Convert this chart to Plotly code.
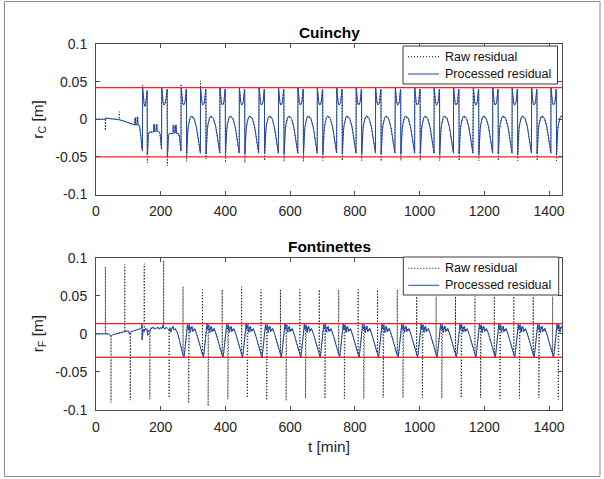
import plotly.graph_objects as go

# ---------------- Cuinchy (top) ----------------
# irregular start-up section (t in min, residual in m)
c_early_t = [0, 28.6, 28.9, 29.2, 50, 71.7, 72, 72.3, 90, 110, 118,
             120, 120.4, 122, 122.4, 127, 127.4, 129, 129.4, 133,
             135, 137.5, 139.5, 141.5, 143.6,
             144, 145, 146.5, 148.5, 151, 153, 155, 157, 158.2, 158.6,
             160, 162, 165, 178, 178.4, 180.5, 180.9, 186, 186.4, 188.5, 188.9,
             196, 198, 200, 202.6,
             203, 204, 205.5, 207.5, 210, 213, 216, 218.5, 220, 220.5,
             222, 224, 227, 238, 238.4, 241, 241.4, 245, 245.4, 248, 248.4,
             255, 258, 260, 262.6]
c_early_proc = [0, 0, 0.0015, 0.0015, 0.0008, -0.0005, -0.0006, -0.0007, -0.003, -0.006, -0.0075,
                -0.0075, 0.002, 0.002, -0.0075, -0.0075, 0.003, 0.003, -0.0075, -0.0078,
                -0.010, -0.016, -0.026, -0.037, -0.042,
                0.042, 0.036, 0.028, 0.021, 0.017, 0.019, 0.026, 0.036, 0.038, -0.047,
                -0.030, -0.020, -0.017, -0.017, -0.007, -0.007, -0.016, -0.016, -0.007, -0.007, -0.016,
                -0.017, -0.020, -0.028, -0.040,
                0.042, 0.036, 0.028, 0.022, 0.019, 0.020, 0.026, 0.037, 0.040, -0.050,
                -0.032, -0.022, -0.019, -0.019, -0.008, -0.008, -0.018, -0.018, -0.008, -0.008, -0.019,
                -0.019, -0.024, -0.032, -0.042]
c_early_spike_t = [28.9, 72, 144, 158.6, 220.5]
c_early_spike_v = [-0.015, 0.010, 0.046, -0.058, -0.062]

# regular lock cycles: start (peak) times and one cycle
c_peak_times = [263, 323, 383, 443, 504, 564, 624, 684, 744, 804,
                864, 925, 985, 1045, 1105, 1166, 1226, 1286, 1346, 1406]
c_cycle_dt = [0, 1, 2.5, 4.5, 7, 10, 12.5, 14.5, 16, 16.6, 17, 18, 19.5, 21, 23,
              25, 28, 31, 34, 35, 36, 40, 44, 47, 50, 53, 55.5, 57.5, 59.6]
c_cycle_proc = [0.042, 0.036, 0.028, 0.022, 0.019, 0.020, 0.024, 0.031, 0.040, 0.037,
                -0.046, -0.032, -0.022, -0.014, -0.007, -0.002, 0.002, 0.004, 0.004,
                0.002, 0.003, 0.001, -0.004, -0.010, -0.018, -0.028, -0.037, -0.043, -0.045]
c_raw_peak = [0.047, 0.051, 0.042, 0.042, 0.042, 0.042, 0.042, 0.042, 0.042, 0.042,
              0.042, 0.042, 0.042, 0.042, 0.042, 0.042, 0.042, 0.042, 0.042, 0.042]
c_raw_drop = [-0.056, -0.053, -0.0575, -0.058, -0.055, -0.056, -0.056, -0.055, -0.055, -0.055,
              -0.056, -0.055, -0.055, -0.055, -0.055, -0.055, -0.055, -0.055, -0.055, -0.055]
c_thresholds = [0.042, -0.050]

# ---------------- Fontinettes (bottom) ----------------
f_early_t = [0, 28.7, 29, 29.3, 40, 43, 46.2, 46.5, 46.8, 52, 70, 88.7, 89, 89.3, 100, 103,
             105.7, 106, 106.3, 110, 125, 138, 141, 142, 142.5, 144, 146, 148.7, 149, 149.3,
             152, 155, 157, 158, 160, 161, 163, 166.2, 166.5, 166.8, 170, 173, 176, 180, 184,
             188, 192, 196, 200, 204, 206, 208.7, 209, 209.3, 213, 217, 221, 225.7, 226, 226.3,
             229, 231, 234, 238, 241, 245, 248, 251, 254, 258, 262, 266]
f_early_proc = [0, 0, 0, 0, 0, -0.002, -0.003, -0.003, -0.003, -0.001, 0.001, 0.003, 0.003, 0.003,
                0.004, 0.000, 0.002, 0.002, 0.002, 0.003, 0.005, 0.007, 0.009, 0.013, -0.008,
                0.004, 0.006, 0.003, 0.003, 0.003, 0.007, 0.006, 0.007, -0.001, -0.002, 0.004,
                0.005, 0.003, 0.003, 0.003, 0.008, 0.007, 0.009, 0.006, 0.008, 0.007, 0.009,
                0.006, 0.008, 0.007, 0.011, 0.008, 0.008, 0.008, 0.006, 0.009, 0.007, 0.005,
                0.005, 0.005, 0.008, 0.002, 0.006, 0.010, 0.005, 0.007, 0.004, 0.002, -0.002,
                -0.008, -0.015, -0.021]
f_early_spike_t = [29, 46.5, 89, 106, 149, 166.5, 209, 226]
f_early_spike_v = [0.088, -0.090, 0.091, -0.087, 0.092, -0.086, 0.096, -0.084]

f_spike_times = [269, 329, 390, 450, 510, 570, 630, 690, 750, 810,
                 870, 931, 991, 1051, 1111, 1171, 1231, 1291, 1351, 1411]
f_cycle_dt = [-0.3, 0, 0.3, 3, 5.5, 8, 10.5, 12.5, 14, 15.5,
              17.2, 17.5, 17.8, 19.5, 21, 23, 24.5, 26, 27.5, 29.5,
              31.5, 33.5, 36, 38.5, 41, 44, 47, 50, 53, 56, 58.5]
f_cycle_proc = [-0.027, -0.028, -0.029, -0.031, -0.022, -0.009, 0.003, 0.010, 0.013, 0.006,
                0.008, 0.009, 0.010, 0.012, 0.004, 0.002, 0.009, 0.007, 0.010, 0.003,
                0.006, 0.004, 0.007, 0.002, 0.001, -0.003, -0.008, -0.013, -0.018, -0.022, -0.025]
f_raw_up = [0.062, 0.058, 0.058, 0.062, 0.058, 0.058, 0.058, 0.058, 0.058, 0.058,
            0.058, 0.058, 0.049, 0.049, 0.049, 0.049, 0.049, 0.049, 0.049, 0.049]
f_raw_down = [-0.091, -0.095, -0.086, -0.084, -0.087, -0.088, -0.085, -0.085, -0.085, -0.085,
              -0.084, -0.084, -0.084, -0.085, -0.084, -0.084, -0.085, -0.085, -0.084, -0.086]
f_thresholds = [0.0135, -0.031]

t_end = 1440
x_tickvals = [0, 200, 400, 600, 800, 1000, 1200, 1400]
x_ticktext = ["0", "200", "400", "600", "800", "1000", "1200", "1400"]
y_tickvals = [-0.1, -0.05, 0, 0.05, 0.1]
y_ticktext = ["-0.1", "-0.05", "0", "0.05", "0.1"]
legend_labels = ["Raw residual", "Processed residual"]


def assemble(early_t, early_proc, spike_t, spike_v, starts, dts, tmpl, raw_specials):
    t = list(early_t)
    proc = list(early_proc)
    raw = list(early_proc)
    for st, sv in zip(spike_t, spike_v):
        raw[t.index(st)] = sv
    for k, s in enumerate(starts):
        for j, (dt, v) in enumerate(zip(dts, tmpl)):
            tt = s + dt
            if tt > t_end:
                break
            rv = v
            for idx, vals in raw_specials:
                if j == idx:
                    rv = vals[k]
            t.append(tt)
            proc.append(v)
            raw.append(rv)
    return t, proc, raw


ct, cp, cr = assemble(c_early_t, c_early_proc, c_early_spike_t, c_early_spike_v,
                      c_peak_times, c_cycle_dt, c_cycle_proc,
                      [(0, c_raw_peak), (c_cycle_dt.index(17), c_raw_drop)])
ft, fp, fr = assemble(f_early_t, f_early_proc, f_early_spike_t, f_early_spike_v,
                      f_spike_times, f_cycle_dt, f_cycle_proc,
                      [(f_cycle_dt.index(0), f_raw_up), (f_cycle_dt.index(17.5), f_raw_down)])

BLUE = "#2248ab"
RED = "#ff1f1f"
RAW_COLOR = "#111111"
RAW_DASH = "1px,2px"
FONT = "Liberation Sans, Arial, Helvetica, sans-serif"
TXT = "#262626"
AX = "#4d4d4d"

fig = go.Figure()
fig.add_trace(go.Scatter(x=ct, y=cr, mode="lines", line=dict(color=RAW_COLOR, width=1, dash=RAW_DASH),
                         name=legend_labels[0], xaxis="x", yaxis="y", showlegend=False))
fig.add_trace(go.Scatter(x=ct, y=cp, mode="lines", line=dict(color=BLUE, width=1),
                         name=legend_labels[1], xaxis="x", yaxis="y", showlegend=False))
for v in c_thresholds:
    fig.add_trace(go.Scatter(x=[0, t_end], y=[v, v], mode="lines", line=dict(color=RED, width=1.3),
                             showlegend=False, xaxis="x", yaxis="y"))

fig.add_trace(go.Scatter(x=ft, y=fr, mode="lines", line=dict(color=RAW_COLOR, width=1, dash=RAW_DASH),
                         name=legend_labels[0], xaxis="x2", yaxis="y2", showlegend=False))
fig.add_trace(go.Scatter(x=ft, y=fp, mode="lines", line=dict(color=BLUE, width=1),
                         name=legend_labels[1], xaxis="x2", yaxis="y2", showlegend=False))
for v in f_thresholds:
    fig.add_trace(go.Scatter(x=[0, t_end], y=[v, v], mode="lines", line=dict(color=RED, width=1.3),
                             showlegend=False, xaxis="x2", yaxis="y2"))

# body margin is removed in the page (post_script), so page pixels == figure pixels
W, H = 604, 479
L, R, T, B = 96, 562, 44, 410
ph = B - T


def py(pix):
    return (B - pix) / ph


def px(pix):
    return (pix - L) / (R - L)


axis_common = dict(range=[0, t_end], tickvals=x_tickvals, ticktext=x_ticktext,
                   showline=True, mirror="ticks", linecolor=AX, linewidth=1,
                   ticks="inside", ticklen=4, tickcolor=AX, showgrid=False, zeroline=False,
                   tickfont=dict(family=FONT, size=14, color=TXT), ticklabelstandoff=4)
yaxis_common = dict(range=[-0.1, 0.1], tickvals=y_tickvals, ticktext=y_ticktext,
                    showline=True, mirror="ticks", linecolor=AX, linewidth=1,
                    ticks="inside", ticklen=4, tickcolor=AX, showgrid=False, zeroline=False,
                    tickfont=dict(family=FONT, size=14, color=TXT), ticklabelstandoff=5)

annotations = [
    dict(text="<b>Cuinchy</b>", x=0.5, y=py(32.7), font=dict(family=FONT, size=15.4, color="#000000")),
    dict(text="<b>Fontinettes</b>", x=0.5, y=py(246.7), font=dict(family=FONT, size=15.4, color="#000000")),
    dict(text="t [min]", x=0.5, y=py(446.7), font=dict(family=FONT, size=15.4, color=TXT)),
    dict(text="r<sub>C</sub> [m]", x=px(38.5), y=py(119.25), textangle=-90,
         font=dict(family=FONT, size=15.4, color=TXT)),
    dict(text="r<sub>F</sub> [m]", x=px(38.5), y=py(333.8), textangle=-90,
         font=dict(family=FONT, size=15.4, color=TXT)),
]
for a in annotations:
    a.update(xref="paper", yref="paper", showarrow=False, xanchor="center", yanchor="middle")

shapes = [
    dict(type="rect", xref="paper", yref="paper", x0=px(4.5), x1=px(600), y0=py(476.5), y1=py(1.5),
         line=dict(color="#8c8c8c", width=1), fillcolor="rgba(0,0,0,0)", layer="below"),
]

# legend boxes (drawn like the MATLAB legend)
legend_boxes = [
    (403, 557.5, 46, 84, 56.7, 74.0),
    (403.3, 558.7, 257, 295, 268.3, 285.3),
]
for (x0, x1, y0, y1, e1, e2) in legend_boxes:
    shapes.append(dict(type="rect", xref="paper", yref="paper", x0=px(x0), x1=px(x1), y0=py(y1), y1=py(y0),
                       line=dict(color="#3a3a3a", width=1), fillcolor="white", layer="above"))
    shapes.append(dict(type="line", xref="paper", yref="paper", x0=px(x0 + 5), x1=px(x0 + 36), y0=py(e1), y1=py(e1),
                       line=dict(color=RAW_COLOR, width=1, dash=RAW_DASH), layer="above"))
    shapes.append(dict(type="line", xref="paper", yref="paper", x0=px(x0 + 5), x1=px(x0 + 36), y0=py(e2), y1=py(e2),
                       line=dict(color=BLUE, width=1), layer="above"))
    for lab, ey in zip(legend_labels, (e1, e2)):
        annotations.append(dict(text=lab, x=px(x0 + 40), y=py(ey), xref="paper", yref="paper",
                                showarrow=False, xanchor="left", yanchor="middle",
                                font=dict(family=FONT, size=12.5, color="#111111")))

fig.update_layout(
    width=W, height=H,
    margin=dict(l=L, r=W - R, t=T, b=H - B, pad=0),
    paper_bgcolor="white", plot_bgcolor="white",
    font=dict(family=FONT, color=TXT),
    xaxis=dict(domain=[0, 1], anchor="y", **axis_common),
    yaxis=dict(domain=[py(194.5), 1], anchor="x", **yaxis_common),
    xaxis2=dict(domain=[0, 1], anchor="y2", **axis_common),
    yaxis2=dict(domain=[0, py(257.7)], anchor="x2", **yaxis_common),
    showlegend=False,
    hovermode=False,
    annotations=annotations,
    shapes=shapes,
)

fig.write_html("out.html", config={"displayModeBar": False, "staticPlot": True},
               post_script="document.body.style.margin='0';document.body.style.overflow='hidden';")
